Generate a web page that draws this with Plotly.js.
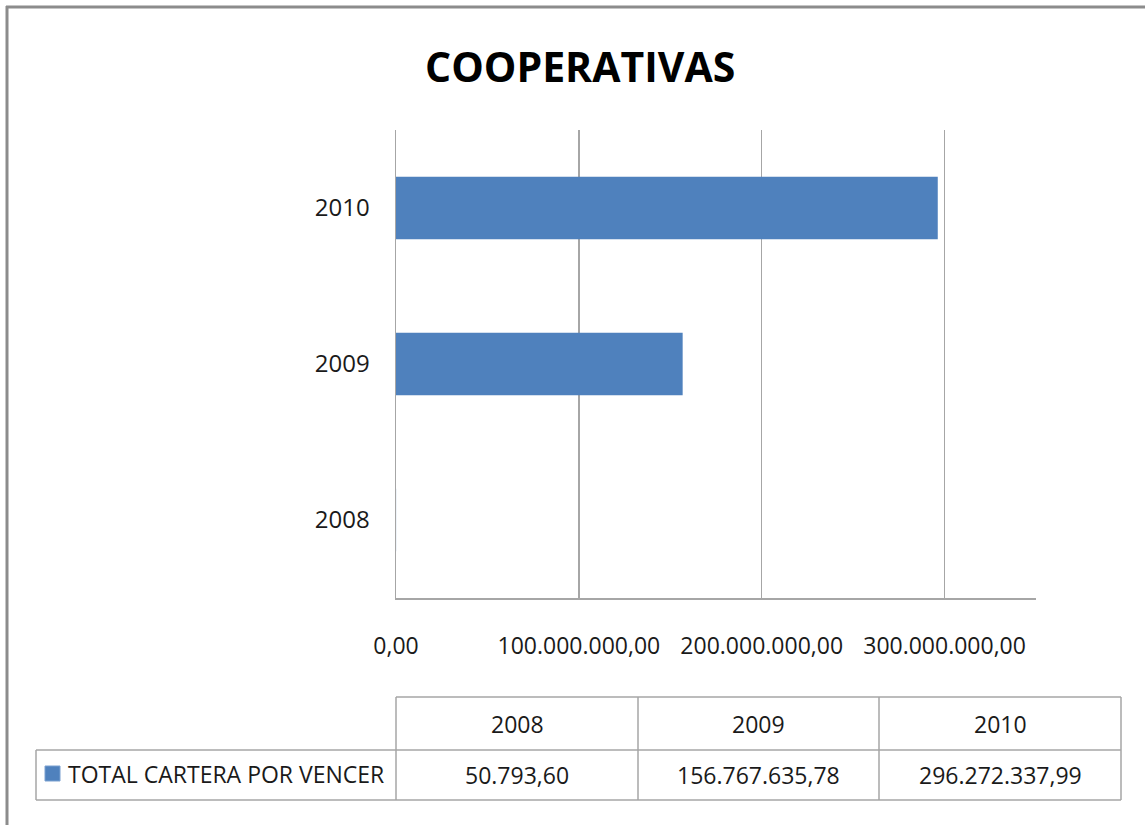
<!DOCTYPE html>
<html>
<head>
<meta charset="utf-8">
<script src="https://cdn.plot.ly/plotly-3.0.1.min.js"></script>
<style>
html,body{margin:0;padding:0;background:#fff;}
#chart{width:1145px;height:825px;}
</style>
</head>
<body>
<div id="chart"></div>
<script>
const categories = ['2008', '2009', '2010'];
const values = [50793.60, 156767635.78, 296272337.99];
const valueLabels = ['50.793,60', '156.767.635,78', '296.272.337,99'];
const seriesName = 'TOTAL CARTERA POR VENCER';
const tickValues = [0, 100000000, 200000000, 300000000];
const tickLabels = ['0,00', '100.000.000,00', '200.000.000,00', '300.000.000,00'];
const chartTitle = 'COOPERATIVAS';

const W = 1145, H = 825;
const L = 396, R = 1036, T = 130, B = 598;
const px = x => (x - L) / (R - L);
const py = y => (B - y) / (B - T);

const barColor = '#4f81bd';
const gridColor = '#a6a6a6';
const FONT = 'Open Sans, Liberation Sans, sans-serif';

const shapes = [];
const annotations = [];
function hline(x0, x1, y, color, w) {
  shapes.push({type:'line', xref:'paper', yref:'paper', x0:px(x0), x1:px(x1), y0:py(y), y1:py(y), line:{color:color, width:w}});
}
function vline(x, y0, y1, color, w) {
  shapes.push({type:'line', xref:'paper', yref:'paper', x0:px(x), x1:px(x), y0:py(y0), y1:py(y1), line:{color:color, width:w}});
}

// outer frame (top and left visible)
hline(6, 1150, 7, '#8c8c8c', 3);
vline(7, 6, 830, '#8c8c8c', 3);

// data table
const colX = [396, 638, 879, 1121];
const rowY = [697, 750, 800];
const tblLeft = 36;
hline(colX[0], colX[3], rowY[0], gridColor, 1.5);
hline(tblLeft, colX[3], rowY[1], gridColor, 1.5);
hline(tblLeft, colX[3], rowY[2], gridColor, 1.5);
vline(tblLeft, rowY[1], rowY[2], gridColor, 1.5);
colX.forEach(x => vline(x, rowY[0], rowY[2], gridColor, 1.5));

categories.forEach((c, i) => {
  const cx = (colX[i] + colX[i+1]) / 2;
  annotations.push({xref:'paper', yref:'paper', x:px(cx), y:py((rowY[0]+rowY[1])/2), text:c, showarrow:false,
    xanchor:'center', yanchor:'middle', font:{family:FONT, size:23, color:'#1a1a1a'}});
  annotations.push({xref:'paper', yref:'paper', x:px(cx), y:py((rowY[1]+rowY[2])/2), text:valueLabels[i], showarrow:false,
    xanchor:'center', yanchor:'middle', font:{family:FONT, size:23, color:'#1a1a1a'}});
});

// legend key + series name
shapes.push({type:'rect', xref:'paper', yref:'paper', x0:px(45), x1:px(60), y0:py(781), y1:py(766),
  fillcolor:barColor, line:{color:'#7aa0d0', width:1}});
annotations.push({xref:'paper', yref:'paper', x:px(66), y:py(774), text:seriesName, showarrow:false,
  xanchor:'left', yanchor:'middle', font:{family:FONT, size:23, color:'#1a1a1a'}});

// title
annotations.push({xref:'paper', yref:'paper', x:px(580), y:py(66), text:'<b>'+chartTitle+'</b>', showarrow:false,
  xanchor:'center', yanchor:'middle', font:{family:FONT, size:41, color:'#000'}});

const data = [{
  type:'bar', orientation:'h',
  y:categories, x:values, name:seriesName,
  marker:{color:barColor, line:{width:0}},
  hoverinfo:'x+y'
}];

const layout = {
  width:W, height:H,
  margin:{l:L, r:W-R, t:T, b:H-B, pad:0},
  paper_bgcolor:'#fff', plot_bgcolor:'#fff',
  showlegend:false,
  bargap:0.6,
  xaxis:{range:[0, 350000000], tickvals:tickValues, ticktext:tickLabels,
    showgrid:true, gridcolor:gridColor, gridwidth:1.5, zeroline:false,
    showline:true, linecolor:gridColor, linewidth:1.5,
    ticks:'', ticklabelstandoff:27, tickfont:{family:FONT, size:23, color:'#1a1a1a'}, fixedrange:true},
  yaxis:{type:'category', categoryorder:'array', categoryarray:categories,
    showgrid:false, zeroline:false, showline:true, linecolor:gridColor, linewidth:1.5,
    ticks:'', ticklabelstandoff:20, tickfont:{family:FONT, size:24, color:'#1a1a1a'}, fixedrange:true},
  shapes:shapes,
  annotations:annotations
};

Plotly.newPlot('chart', data, layout, {displayModeBar:false, staticPlot:true});
</script>
</body>
</html>
